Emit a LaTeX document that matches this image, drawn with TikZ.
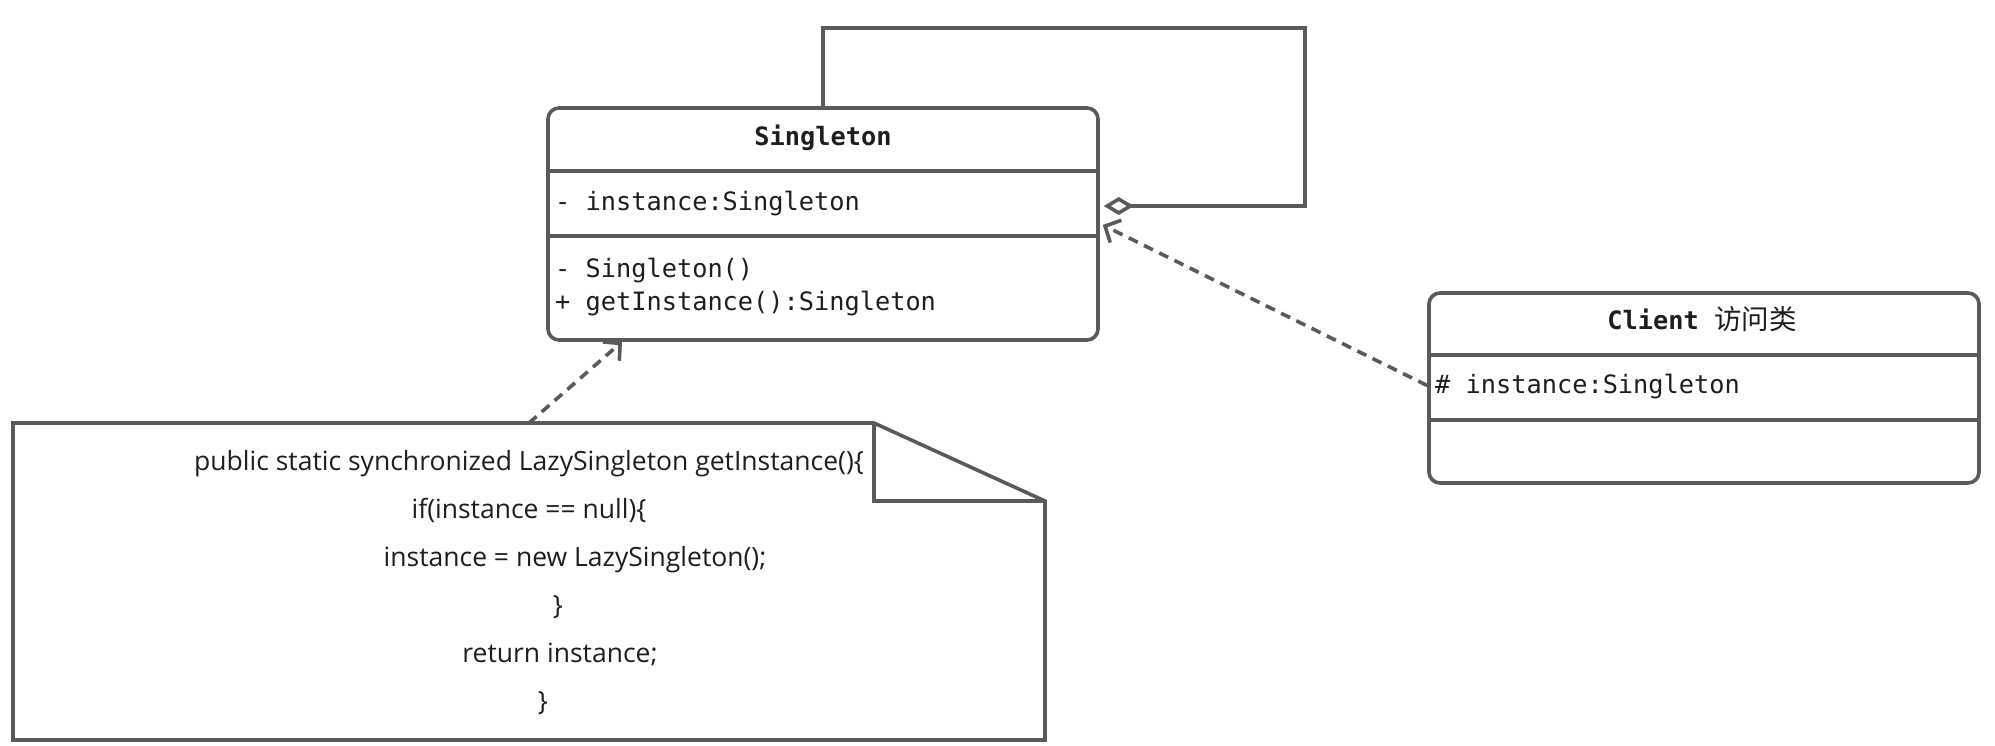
\documentclass[tikz,border=0pt]{standalone}
\usepackage{fontspec}
\setmainfont{Open Sans}
\newfontfamily\monof{DejaVu Sans Mono}
\newfontfamily\cjk{Noto Sans CJK SC}
\usetikzlibrary{arrows.meta}
\definecolor{linec}{HTML}{5A5A5A}
\definecolor{txtc}{HTML}{1E1E1E}
\begin{document}
\begin{tikzpicture}[x=1pt,y=-1pt,
  classbox/.style={draw=linec, line width=3.6pt, rounded corners=11pt, inner sep=0pt},
  sepline/.style={draw=linec, line width=3.6pt},
  notebox/.style={draw=linec, line width=3.6pt, line join=miter},
  mtext/.style={font=\monof\fontsize{25.3}{30}\selectfont, text=txtc, anchor=base west, inner sep=0pt},
  ttext/.style={font=\monof\bfseries\fontsize{25.3}{30}\selectfont, text=txtc, anchor=base, inner sep=0pt},
  ntext/.style={font=\fontsize{26.5}{32}\selectfont, text=txtc, anchor=base, inner sep=0pt},
  dep/.style={draw=linec, line width=3.6pt, dash pattern=on 10pt off 7pt, -{Straight Barb[length=12pt,width=25pt]}},
  assoc/.style={draw=linec, line width=3.6pt, -{Diamond[open,fill=white,length=30pt,width=18pt]}},
]
\useasboundingbox (0,0) rectangle (1995,745);

% Singleton class
\node[classbox, minimum width=550pt, minimum height=232pt] (sing) at (823,224) {};
\draw[sepline] (sing.west |- 0,171) -- (sing.east |- 0,171);
\draw[sepline] (sing.west |- 0,236) -- (sing.east |- 0,236);
\node[ttext] (singtitle) at (823,145) {Singleton};
\node[mtext] (singattr) at (555,210) {- instance:Singleton};
\node[mtext] (singm1) at (555,277) {- Singleton()};
\node[mtext] (singm2) at (555,310) {+ getInstance():Singleton};

% Client class
\node[classbox, minimum width=550pt, minimum height=190pt] (client) at (1704,388) {};
\draw[sepline] (client.west |- 0,355) -- (client.east |- 0,355);
\draw[sepline] (client.west |- 0,420) -- (client.east |- 0,420);
\node[ttext] (clienttitle) at (1702,329) {Client {\cjk\mdseries\fontsize{27.5}{30}\selectfont 访问类}};
\node[mtext] (clientattr) at (1435,393) {\# instance:Singleton};

% Note
\draw[notebox] (13,423) -- (874,423) -- (1045,501) -- (1045,740) -- (13,740) -- cycle;
\draw[notebox] (874,423) -- (874,501) -- (1045,501);
\coordinate (notetop) at (529,423);
\node[ntext] (n1) at (529,470) {public static synchronized LazySingleton getInstance()\{};
\node[ntext] (n2) at (529,518) {if(instance == null)\{};
\node[ntext] (n3) at (575,566) {instance = new LazySingleton();};
\node[ntext] (n4) at (558,614) {\}};
\node[ntext] (n5) at (560,662) {return instance;};
\node[ntext] (n6) at (543,710) {\}};

% Self association loop
\coordinate (looptr) at (1305,28);
\draw[assoc] (sing.north) |- (looptr) -- (looptr |- 0,206) -- ([xshift=4pt]sing.east |- 0,206);

% Dependencies
\draw[dep] (client.west |- 0,385.5) -- ([xshift=3pt]sing.east |- 0,225);
\draw[dep] (notetop) -- (sing.south -| 622,0);
\end{tikzpicture}
\end{document}
